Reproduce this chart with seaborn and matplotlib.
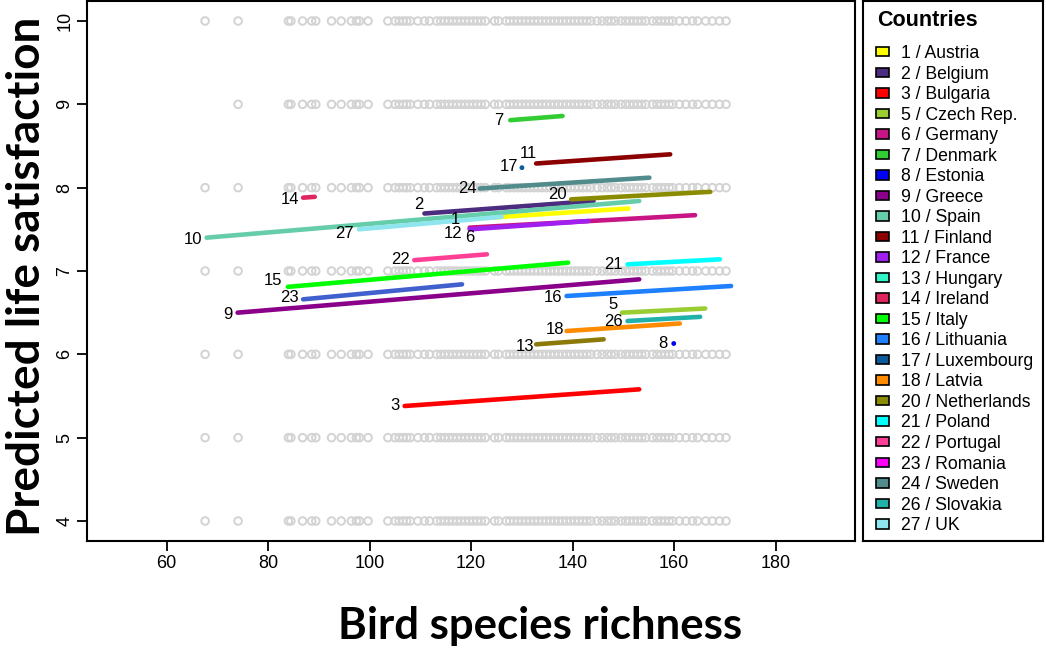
import matplotlib
matplotlib.use("Agg")
import matplotlib.pyplot as plt
from matplotlib.patches import Patch
import seaborn as sns
import pandas as pd
import numpy as np

# ---------------- data ----------------
countries = ["1 / Austria", "2 / Belgium", "3 / Bulgaria", "5 / Czech Rep.", "6 / Germany",
             "7 / Denmark", "8 / Estonia", "9 / Greece", "10 / Spain", "11 / Finland",
             "12 / France", "13 / Hungary", "14 / Ireland", "15 / Italy", "16 / Lithuania",
             "17 / Luxembourg", "18 / Latvia", "20 / Netherlands", "21 / Poland", "22 / Portugal",
             "23 / Romania", "24 / Sweden", "26 / Slovakia", "27 / UK"]
codes = ["1", "2", "3", "5", "6", "7", "8", "9", "10", "11", "12", "13", "14", "15", "16",
         "17", "18", "20", "21", "22", "23", "24", "26", "27"]
legend_colors = ["#FFFF00", "#4B2C7F", "#FF0000", "#9ACD32", "#C71585", "#32CD32", "#0000FF",
                 "#8B008B", "#66CDAA", "#8B0000", "#A020F0", "#30F5C8", "#E0245E", "#00FF00",
                 "#1E80FF", "#0A5A9C", "#FF8C00", "#8B8B00", "#00FFFF", "#FF3E96", "#FF00FF",
                 "#528B8B", "#20B2AA", "#8EE5EE"]
line_colors = ["#FFFF00", "#4B2C7F", "#FF0000", "#9ACD32", "#C71585", "#32CD32", "#0000FF",
               "#8B008B", "#66CDAA", "#8B0000", "#A020F0", "#8B7A0A", "#E0245E", "#00FF00",
               "#1E80FF", "#0A5A9C", "#FF8C00", "#8B8B00", "#00FFFF", "#FF3E96", "#4060CD",
               "#528B8B", "#20B2AA", "#8EE5EE"]

# predicted line start / end (bird species richness, predicted life satisfaction)
x_start = [118.7, 110.8, 106.9, 149.7, 119.7, 127.7, 159.9, 74.0, 67.9, 132.8, 119.7, 132.8,
           86.9, 83.9, 138.8, 130.0, 138.8, 139.7, 150.8, 108.8, 86.9, 121.7, 150.8, 97.9]
x_end = [151.0, 144.1, 153.1, 166.1, 164.1, 138.0, 159.9, 153.1, 153.1, 159.2, 143.1, 146.1,
         89.2, 139.1, 171.2, 130.0, 161.1, 167.1, 169.0, 123.1, 118.2, 155.1, 165.1, 126.0]
y_start = [7.62, 7.69, 5.38, 6.50, 7.52, 8.81, 6.13, 6.50, 7.40, 8.29, 7.50, 6.12,
           7.88, 6.81, 6.70, 8.24, 6.28, 7.86, 7.08, 7.13, 6.66, 7.99, 6.40, 7.50]
y_end = [7.75, 7.84, 5.58, 6.55, 7.67, 8.86, 6.13, 6.90, 7.84, 8.40, 7.60, 6.18,
         7.89, 7.10, 6.82, 8.24, 6.37, 7.95, 7.14, 7.20, 6.84, 8.12, 6.45, 7.65]

# observed bird species richness of regions (grey points at each satisfaction level)
richness = [67.6, 74.1, 84.0, 84.5, 86.8, 88.6, 89.4, 92.5, 94.4, 96.4, 97.4, 98.0, 99.7,
            103.6, 105.0, 105.8, 106.6, 107.3, 108.0, 109.5, 110.8, 111.8, 113.2, 114.0,
            114.8, 115.6, 116.4, 117.2, 118.0, 118.8, 119.6, 120.4, 121.2, 122.0, 122.8,
            124.6, 125.4, 126.9, 127.6, 128.4, 129.2, 130.0, 130.8, 131.6, 132.4, 133.2,
            134.0, 134.8, 135.6, 136.4, 137.2, 138.0, 138.8, 139.6, 140.4, 141.2, 142.0,
            142.8, 143.6, 144.8, 145.8, 146.8, 147.6, 148.4, 149.5, 150.4, 151.2, 152.0,
            152.8, 153.6, 154.4, 155.7, 156.6, 157.4, 158.2, 159.0, 159.7, 161.0, 162.3,
            163.6, 164.6, 166.2, 167.5, 168.9, 170.2]
satisfaction_levels = [4, 5, 6, 7, 8, 9, 10]

x_ticks = [60, 80, 100, 120, 140, 160, 180]
y_ticks = [4, 5, 6, 7, 8, 9, 10]

# label offsets (pixels, relative to line start) - layout only
label_offsets = {"1": (-9, 0), "2": (-6, 9), "3": (-10, 0), "5": (-9, 8), "6": (0, -10),
                 "7": (-11, 0), "8": (-11, 0), "9": (-10, -2), "10": (-14, -2), "11": (-8, 10),
                 "12": (-17, -4), "13": (-11, -2), "14": (-13, -2), "15": (-15, 6),
                 "16": (-14, -1), "17": (-13, 1), "18": (-12, 2), "20": (-14, 5),
                 "21": (-14, 0), "22": (-14, 1), "23": (-14, 2), "24": (-12, 0),
                 "26": (-14, 0), "27": (-15, -4)}

# ---------------- build tables ----------------
pts = pd.DataFrame([(x, s) for s in satisfaction_levels for x in richness
                    if not (s == 9 and x == richness[0])],
                   columns=["richness", "satisfaction"])

rows = []
for c, xs, xe, ys, ye in zip(countries, x_start, x_end, y_start, y_end):
    rows.append((c, xs, ys, 0))
    rows.append((c, xe, ye, 1))
lines = pd.DataFrame(rows, columns=["country", "richness", "pred", "end"])
is_dot = [xs == xe for xs, xe in zip(x_start, x_end)]
line_df = lines[lines["country"].isin([c for c, d in zip(countries, is_dot) if not d])]
dot_df = lines[(lines["country"].isin([c for c, d in zip(countries, is_dot) if d])) & (lines["end"] == 0)]
pal = dict(zip(countries, line_colors))

# ---------------- plot ----------------
sns.set_style("ticks")
plt.rcParams["font.family"] = ["Liberation Sans", "DejaVu Sans"]
plt.rcParams["text.color"] = "black"
plt.rcParams["axes.labelcolor"] = "black"
plt.rcParams["xtick.color"] = "black"
plt.rcParams["ytick.color"] = "black"
plt.rcParams["xtick.labelcolor"] = "black"
plt.rcParams["ytick.labelcolor"] = "black"

fig = plt.figure(figsize=(10.46, 6.48), dpi=100)
ax = fig.add_axes([87.3 / 1046, 107 / 648, (855 - 87.3) / 1046, 540 / 648])

sns.scatterplot(data=pts, x="richness", y="satisfaction", ax=ax, marker="o", s=30,
                facecolor="none", edgecolor="#D3D3D3", linewidth=1.4, legend=False, zorder=1)
sns.lineplot(data=line_df, x="richness", y="pred", hue="country", palette=pal, ax=ax,
             estimator=None, units="country", sort=True, linewidth=3.3, legend=False,
             solid_capstyle="round", zorder=3)
sns.scatterplot(data=dot_df, x="richness", y="pred", hue="country", palette=pal, ax=ax,
                s=12, linewidth=0, legend=False, zorder=4)

for code, xs, ys in zip(codes, x_start, y_start):
    dx, dy = label_offsets[code]
    ax.annotate(code, (xs, ys), xytext=(dx, dy), textcoords="offset pixels",
                ha="center", va="center", fontsize=12, color="black", zorder=5)

ax.set_xlim(44.4, 195.6)
ax.set_ylim(3.76, 10.24)
ax.set_xticks(x_ticks)
ax.set_yticks(y_ticks)
ax.set_xticklabels([str(t) for t in x_ticks], fontsize=13, color="black")
ax.set_yticklabels([str(t) for t in y_ticks], fontsize=13, rotation=90, va="center", color="black")
ax.tick_params(axis="both", length=7, width=1.3, color="black", pad=3)
for sp in ax.spines.values():
    sp.set_visible(True)
    sp.set_linewidth(1.5)
    sp.set_color("black")
ax.set_xlabel("")
ax.set_ylabel("")

fig.text(540 / 1046, 1 - 626 / 648, "Bird species richness", ha="center", va="center",
         fontsize=31.5, fontweight="bold", color="black", family=["Lato", "DejaVu Sans"])
fig.text(27 / 1046, 1 - 276 / 648, "Predicted life satisfaction", ha="center", va="center",
         rotation=90, fontsize=33, fontweight="bold", color="black", family=["Lato", "DejaVu Sans"])

# legend panel
lax = fig.add_axes([863 / 1046, 107 / 648, (1043 - 863) / 1046, 540 / 648])
lax.set_xticks([])
lax.set_yticks([])
for sp in lax.spines.values():
    sp.set_visible(True)
    sp.set_linewidth(1.5)
    sp.set_color("black")
lax.text((877 - 863) / 180, 1 - 20 / 540, "Countries", transform=lax.transAxes,
         ha="left", va="center", fontsize=15.5, fontweight="bold", color="black")
handles = [Patch(facecolor=c, edgecolor="black", linewidth=1.2) for c in legend_colors]
leg = lax.legend(handles, countries, loc="upper left",
                 bbox_to_anchor=((876 - 863) / 180, 1 - 44 / 540),
                 frameon=False, fontsize=12.7, borderpad=0, borderaxespad=0,
                 handlelength=0.74, handleheight=0.45,
                 handletextpad=0.66, labelspacing=0.20)
for t in leg.get_texts():
    t.set_color("black")

fig.savefig("out.png", dpi=100)
